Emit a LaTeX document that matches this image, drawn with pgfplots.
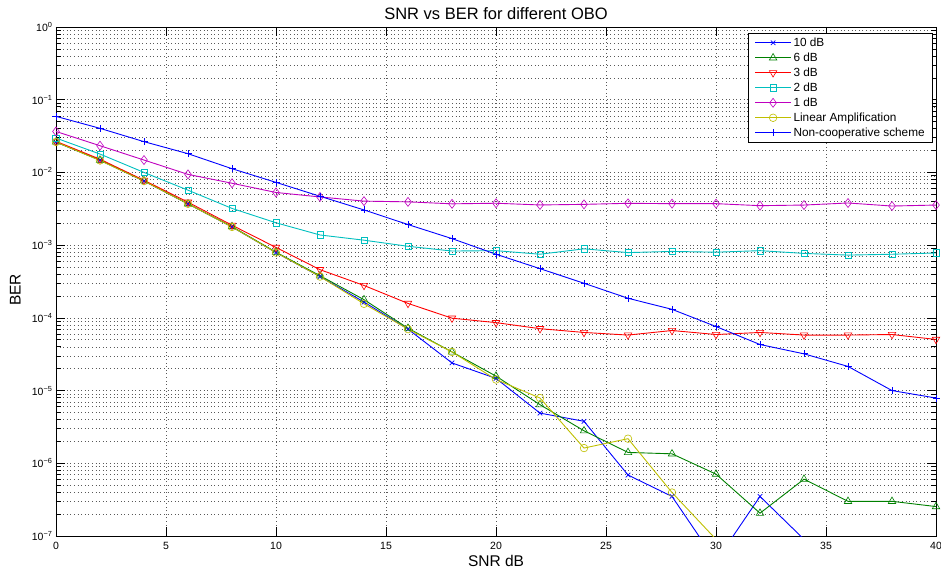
\documentclass[border=0pt]{standalone}
\usepackage{fontspec}
\setmainfont{Liberation Sans}
\usepackage{pgfplots}
\pgfplotsset{compat=1.18}
\definecolor{mblue}{rgb}{0,0,1}
\definecolor{mgreen}{rgb}{0,0.5,0}
\definecolor{mred}{rgb}{1,0,0}
\definecolor{mcyan}{rgb}{0,0.75,0.75}
\definecolor{mmag}{rgb}{0.75,0,0.75}
\definecolor{myel}{rgb}{0.75,0.75,0}
\begin{document}
\begin{tikzpicture}
\begin{axis}[
  scale only axis, width=880pt, height=509pt,
  xmin=0, xmax=40, ymode=log, ymin=1e-7, ymax=1,
  xtick={0,5,10,15,20,25,30,35,40},
  xticklabels={0,5,10,15,20,25,30,35,40},
  ytick={1e-7,1e-6,1e-5,1e-4,1e-3,1e-2,1e-1,1},
  yticklabels={10\textsuperscript{−7},10\textsuperscript{−6},10\textsuperscript{−5},10\textsuperscript{−4},10\textsuperscript{−3},10\textsuperscript{−2},10\textsuperscript{−1},10\textsuperscript{0}},
  minor ytick={2e-7,3e-7,4e-7,5e-7,6e-7,7e-7,8e-7,9e-7,
               2e-6,3e-6,4e-6,5e-6,6e-6,7e-6,8e-6,9e-6,
               2e-5,3e-5,4e-5,5e-5,6e-5,7e-5,8e-5,9e-5,
               2e-4,3e-4,4e-4,5e-4,6e-4,7e-4,8e-4,9e-4,
               2e-3,3e-3,4e-3,5e-3,6e-3,7e-3,8e-3,9e-3,
               2e-2,3e-2,4e-2,5e-2,6e-2,7e-2,8e-2,9e-2,
               2e-1,3e-1,4e-1,5e-1,6e-1,7e-1,8e-1,9e-1},
  tick pos=both, tick align=inside,
  major tick length=9pt, minor tick length=5pt,
  tick style={black, line width=0.6pt},
  axis line style={black, line width=0.8pt},
  grid=both,
  major grid style={black!65, line width=0.5pt, dash pattern=on 0.6pt off 3pt},
  minor grid style={black!65, line width=0.5pt, dash pattern=on 0.6pt off 3pt},
  xticklabel style={font=\fontsize{10.5}{12}\selectfont, yshift=-3pt},
  yticklabel style={font=\fontsize{10.5}{12}\selectfont},
  every axis title/.style={at={(0.5,1)}, anchor=base, yshift=7.7pt, font=\fontsize{16.5}{18}\selectfont},
  every axis x label/.style={at={(0.5,0)}, anchor=base, yshift=-30.7pt, font=\fontsize{15.5}{17}\selectfont},
  every axis y label/.style={at={(-0.0401,0.4833)}, rotate=90, anchor=base, font=\fontsize{15.5}{17}\selectfont},
  title={SNR vs BER for different OBO},
  xlabel={SNR dB},
  ylabel={BER},
  every axis plot/.append style={line width=0.9pt},
  legend image code/.code={\draw[mark repeat=2,mark phase=2,#1] plot coordinates {(0pt,0pt) (18pt,0pt) (36pt,0pt)};},
  legend style={at={(1,1)}, anchor=north east, xshift=-3pt, yshift=-6pt,
    draw=black, line width=0.6pt, fill=white,
    font=\fontsize{11.8}{13}\selectfont,
    inner xsep=6pt, inner ysep=2pt, row sep=0pt, column sep=0pt,
    cells={anchor=west},
    nodes={inner xsep=2pt, inner ysep=1.25pt, text height=9.5pt, text depth=3pt}},
]
\addplot[color=mblue, mark=x, mark size=3.2pt, mark options={line width=0.7pt}] coordinates {
(0,0.0262) (2,0.0147) (4,0.0076) (6,0.0037) (8,0.00178) (10,0.00079) (12,0.00037)
(14,0.000165) (16,7.0e-5) (18,2.4e-5) (20,1.47e-5) (22,4.9e-6) (24,3.78e-6)
(26,6.9e-7) (28,3.5e-7) (30,4.5e-8) (32,3.5e-7) (34,9.0e-8)};
\addlegendentry{10 dB}
\addplot[color=mgreen, mark=triangle, mark size=4.3pt, mark options={line width=0.6pt}] coordinates {
(0,0.0262) (2,0.0148) (4,0.0077) (6,0.0037) (8,0.0018) (10,0.00080) (12,0.00038)
(14,0.000178) (16,7.2e-5) (18,3.4e-5) (20,1.58e-5) (22,6.4e-6) (24,2.8e-6)
(26,1.41e-6) (28,1.35e-6) (30,7.1e-7) (32,2.06e-7) (34,6.05e-7) (36,3.0e-7)
(38,3.0e-7) (40,2.54e-7)};
\addlegendentry{6 dB}
\addplot[color=mred, mark=triangle, mark size=4.3pt, mark options={rotate=180, line width=0.6pt}] coordinates {
(0,0.0268) (2,0.0152) (4,0.0078) (6,0.0039) (8,0.00188) (10,0.00093) (12,0.00046)
(14,0.000279) (16,0.000158) (18,9.9e-5) (20,8.6e-5) (22,7.1e-5) (24,6.3e-5)
(26,5.8e-5) (28,6.7e-5) (30,5.9e-5) (32,6.3e-5) (34,5.8e-5) (36,5.8e-5)
(38,5.9e-5) (40,5.05e-5)};
\addlegendentry{3 dB}
\addplot[color=mcyan, mark=square, mark size=3.2pt, mark options={line width=0.6pt}] coordinates {
(0,0.0297) (2,0.0179) (4,0.0100) (6,0.0057) (8,0.0032) (10,0.00203) (12,0.00138)
(14,0.00117) (16,0.000964) (18,0.00083) (20,0.00084) (22,0.00075) (24,0.00089)
(26,0.00079) (28,0.00082) (30,0.00080) (32,0.00084) (34,0.00077) (36,0.00073)
(38,0.00075) (40,0.00078)};
\addlegendentry{2 dB}
\addplot[color=mmag, mark=diamond, mark size=4.5pt, mark options={line width=0.6pt}] coordinates {
(0,0.0366) (2,0.0233) (4,0.0148) (6,0.0094) (8,0.0071) (10,0.0053) (12,0.0046)
(14,0.00403) (16,0.00394) (18,0.0037) (20,0.00377) (22,0.00357) (24,0.00364)
(26,0.00376) (28,0.00372) (30,0.00372) (32,0.00349) (34,0.00356) (36,0.0038)
(38,0.00345) (40,0.00356)};
\addlegendentry{1 dB}
\addplot[color=myel, mark=o, mark size=3.8pt, mark options={line width=0.6pt}] coordinates {
(0,0.0262) (2,0.0146) (4,0.0076) (6,0.0037) (8,0.00178) (10,0.00079) (12,0.00037)
(14,0.000156) (16,7.0e-5) (18,3.4e-5) (20,1.42e-5) (22,7.9e-6) (24,1.62e-6)
(26,2.18e-6) (28,3.96e-7) (30,9.0e-8)};
\addlegendentry{Linear Amplification}
\addplot[color=mblue, mark=+, mark size=3.5pt, mark options={line width=0.7pt}] coordinates {
(0,0.059) (2,0.0404) (4,0.0265) (6,0.0181) (8,0.01125) (10,0.0073) (12,0.0047)
(14,0.00305) (16,0.00192) (18,0.00123) (20,0.00075) (22,0.000475) (24,0.000299)
(26,0.000186) (28,0.000131) (30,7.6e-5) (32,4.3e-5) (34,3.2e-5) (36,2.15e-5)
(38,1.0e-5) (40,7.9e-6)};
\addlegendentry{Non-cooperative scheme}
\end{axis}
\pgfresetboundingbox
\useasboundingbox (-56pt,-36pt) rectangle (885pt,536pt);
\end{tikzpicture}
\end{document}
